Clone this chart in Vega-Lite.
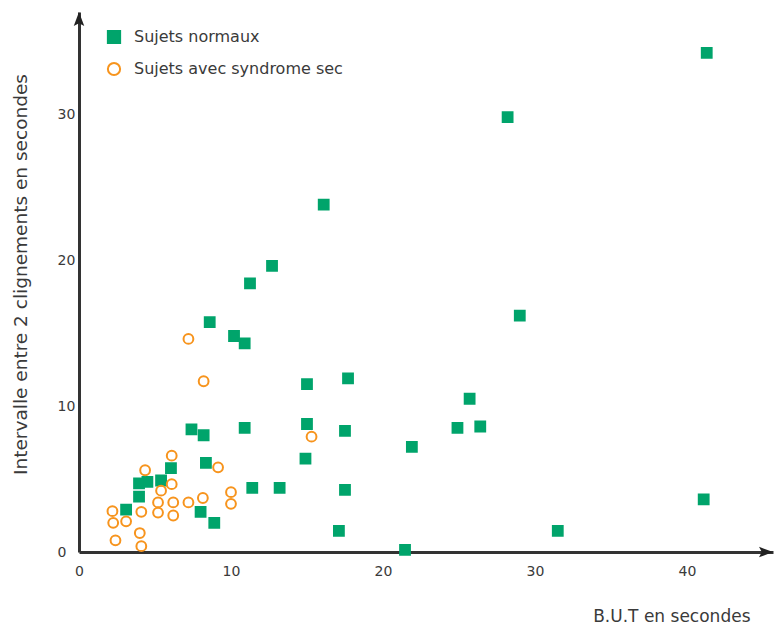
{
  "$schema": "https://vega.github.io/schema/vega-lite/v6.json",
  "width": 694,
  "height": 540,
  "autosize": {"type": "none"},
  "padding": {"left": 79, "top": 12, "right": 11, "bottom": 73},
  "background": "white",
  "config": {
    "view": {"stroke": null},
    "font": "DejaVu Sans",
    "axis": {"grid": false, "ticks": false, "tickSize": 0, "domainColor": "#333333", "domainWidth": 3, "labelColor": "#3a3a3a", "titleColor": "#3a3a3a", "labelFont": "DejaVu Sans", "titleFont": "DejaVu Sans", "titleFontWeight": "normal", "labelFlush": false}
  },
  "layer": [
    {
      "data": {
        "values": [
          {"but": 41.3, "intervalle": 34.2, "groupe": "Sujets normaux"},
          {"but": 28.2, "intervalle": 29.8, "groupe": "Sujets normaux"},
          {"but": 16.1, "intervalle": 23.8, "groupe": "Sujets normaux"},
          {"but": 12.7, "intervalle": 19.6, "groupe": "Sujets normaux"},
          {"but": 11.25, "intervalle": 18.4, "groupe": "Sujets normaux"},
          {"but": 8.6, "intervalle": 15.75, "groupe": "Sujets normaux"},
          {"but": 10.2, "intervalle": 14.8, "groupe": "Sujets normaux"},
          {"but": 10.9, "intervalle": 14.3, "groupe": "Sujets normaux"},
          {"but": 29.0, "intervalle": 16.2, "groupe": "Sujets normaux"},
          {"but": 15.0, "intervalle": 11.5, "groupe": "Sujets normaux"},
          {"but": 17.7, "intervalle": 11.9, "groupe": "Sujets normaux"},
          {"but": 25.7, "intervalle": 10.5, "groupe": "Sujets normaux"},
          {"but": 7.4, "intervalle": 8.4, "groupe": "Sujets normaux"},
          {"but": 8.2, "intervalle": 8.0, "groupe": "Sujets normaux"},
          {"but": 10.9, "intervalle": 8.5, "groupe": "Sujets normaux"},
          {"but": 15.0, "intervalle": 8.77, "groupe": "Sujets normaux"},
          {"but": 17.5, "intervalle": 8.3, "groupe": "Sujets normaux"},
          {"but": 24.9, "intervalle": 8.5, "groupe": "Sujets normaux"},
          {"but": 26.4, "intervalle": 8.6, "groupe": "Sujets normaux"},
          {"but": 21.9, "intervalle": 7.2, "groupe": "Sujets normaux"},
          {"but": 6.05, "intervalle": 5.75, "groupe": "Sujets normaux"},
          {"but": 8.35, "intervalle": 6.1, "groupe": "Sujets normaux"},
          {"but": 14.9, "intervalle": 6.4, "groupe": "Sujets normaux"},
          {"but": 3.95, "intervalle": 4.7, "groupe": "Sujets normaux"},
          {"but": 4.5, "intervalle": 4.8, "groupe": "Sujets normaux"},
          {"but": 5.4, "intervalle": 4.9, "groupe": "Sujets normaux"},
          {"but": 3.95, "intervalle": 3.8, "groupe": "Sujets normaux"},
          {"but": 3.1, "intervalle": 2.9, "groupe": "Sujets normaux"},
          {"but": 11.4, "intervalle": 4.4, "groupe": "Sujets normaux"},
          {"but": 13.2, "intervalle": 4.4, "groupe": "Sujets normaux"},
          {"but": 17.5, "intervalle": 4.25, "groupe": "Sujets normaux"},
          {"but": 41.1, "intervalle": 3.6, "groupe": "Sujets normaux"},
          {"but": 8.0, "intervalle": 2.75, "groupe": "Sujets normaux"},
          {"but": 8.9, "intervalle": 2.0, "groupe": "Sujets normaux"},
          {"but": 17.1, "intervalle": 1.45, "groupe": "Sujets normaux"},
          {"but": 31.5, "intervalle": 1.45, "groupe": "Sujets normaux"},
          {"but": 21.45, "intervalle": 0.15, "groupe": "Sujets normaux"},
          {"but": 7.2, "intervalle": 14.6, "groupe": "Sujets avec syndrome sec"},
          {"but": 8.2, "intervalle": 11.7, "groupe": "Sujets avec syndrome sec"},
          {"but": 15.3, "intervalle": 7.9, "groupe": "Sujets avec syndrome sec"},
          {"but": 6.1, "intervalle": 6.6, "groupe": "Sujets avec syndrome sec"},
          {"but": 4.35, "intervalle": 5.6, "groupe": "Sujets avec syndrome sec"},
          {"but": 9.15, "intervalle": 5.8, "groupe": "Sujets avec syndrome sec"},
          {"but": 6.1, "intervalle": 4.65, "groupe": "Sujets avec syndrome sec"},
          {"but": 5.4, "intervalle": 4.2, "groupe": "Sujets avec syndrome sec"},
          {"but": 10.0, "intervalle": 4.1, "groupe": "Sujets avec syndrome sec"},
          {"but": 5.2, "intervalle": 3.4, "groupe": "Sujets avec syndrome sec"},
          {"but": 6.2, "intervalle": 3.4, "groupe": "Sujets avec syndrome sec"},
          {"but": 7.2, "intervalle": 3.4, "groupe": "Sujets avec syndrome sec"},
          {"but": 8.15, "intervalle": 3.7, "groupe": "Sujets avec syndrome sec"},
          {"but": 10.0, "intervalle": 3.3, "groupe": "Sujets avec syndrome sec"},
          {"but": 2.2, "intervalle": 2.8, "groupe": "Sujets avec syndrome sec"},
          {"but": 2.25, "intervalle": 2.0, "groupe": "Sujets avec syndrome sec"},
          {"but": 3.1, "intervalle": 2.1, "groupe": "Sujets avec syndrome sec"},
          {"but": 4.1, "intervalle": 2.75, "groupe": "Sujets avec syndrome sec"},
          {"but": 5.2, "intervalle": 2.7, "groupe": "Sujets avec syndrome sec"},
          {"but": 6.2, "intervalle": 2.5, "groupe": "Sujets avec syndrome sec"},
          {"but": 4.0, "intervalle": 1.3, "groupe": "Sujets avec syndrome sec"},
          {"but": 2.4, "intervalle": 0.8, "groupe": "Sujets avec syndrome sec"},
          {"but": 4.1, "intervalle": 0.4, "groupe": "Sujets avec syndrome sec"}
        ]
      },
      "mark": {"type": "point", "size": 96, "strokeWidth": 2, "opacity": 1},
      "encoding": {
        "x": {
          "field": "but", "type": "quantitative",
          "scale": {"domain": [0, 45.66], "nice": false, "zero": true},
          "axis": {"values": [0, 10, 20, 30, 40], "labelFontSize": 14, "labelPadding": 12, "title": "B.U.T en secondes", "titleFontSize": 17, "titleAnchor": null, "titleAlign": "right", "titleBaseline": "middle", "titleX": 671, "titleY": 64}
        },
        "y": {
          "field": "intervalle", "type": "quantitative",
          "scale": {"domain": [0, 37], "nice": false, "zero": true},
          "axis": {"values": [0, 10, 20, 30], "labelFontSize": 14, "labelAlign": "left", "labelBaseline": "middle", "labelPadding": 22, "title": "Intervalle entre 2 clignements en secondes", "titleFontSize": 18.5, "titleAngle": 270, "titleAlign": "center", "titleBaseline": "middle", "titleX": -59, "titleY": 262}
        },
        "shape": {
          "field": "groupe", "type": "nominal",
          "scale": {"domain": ["Sujets normaux", "Sujets avec syndrome sec"], "range": ["square", "circle"]},
          "legend": {"title": null, "orient": "none", "legendX": 27, "legendY": 17, "symbolSize": 150, "symbolStrokeWidth": 2, "labelFontSize": 16, "labelColor": "#3a3a3a", "labelOffset": 12, "labelLimit": 400, "rowPadding": 10, "padding": 0}
        },
        "fill": {
          "field": "groupe", "type": "nominal",
          "scale": {"domain": ["Sujets normaux", "Sujets avec syndrome sec"], "range": ["#00A46B", "transparent"]}
        },
        "stroke": {
          "field": "groupe", "type": "nominal",
          "scale": {"domain": ["Sujets normaux", "Sujets avec syndrome sec"], "range": ["#00A46B", "#F7941D"]}
        }
      }
    },
    {
      "data": {"values": [{"ax": 45.66, "ay": 0}]},
      "mark": {"type": "point", "shape": "M -2 -0.75 L 0 0 L -2 0.75 L -1.6 0 Z", "size": 196, "filled": true, "color": "#222222", "opacity": 1, "strokeWidth": 0},
      "encoding": {"x": {"field": "ax", "type": "quantitative"}, "y": {"field": "ay", "type": "quantitative"}}
    },
    {
      "data": {"values": [{"ax": 0, "ay": 37}]},
      "mark": {"type": "point", "shape": "M -0.75 2 L 0 0 L 0.75 2 L 0 1.6 Z", "size": 196, "filled": true, "color": "#222222", "opacity": 1, "strokeWidth": 0},
      "encoding": {"x": {"field": "ax", "type": "quantitative"}, "y": {"field": "ay", "type": "quantitative"}}
    }
  ]
}
